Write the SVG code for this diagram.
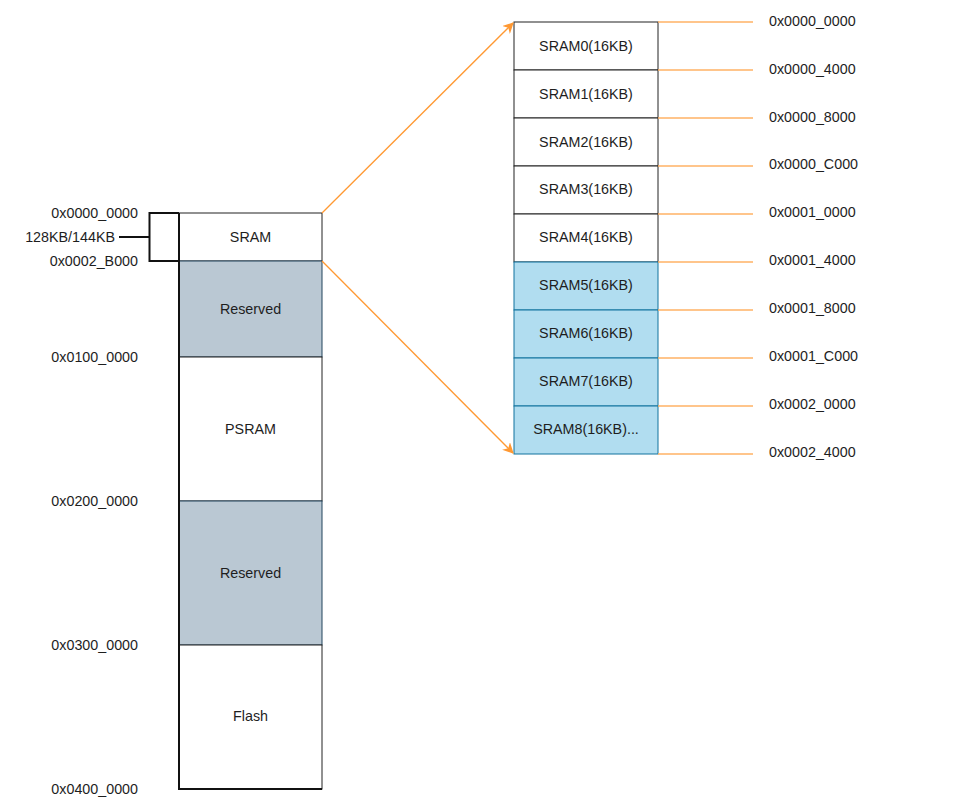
<svg xmlns="http://www.w3.org/2000/svg" width="971" height="809" viewBox="0 0 971 809">
<defs>
<style>
text{font-family:"Liberation Sans",Arial,sans-serif;font-size:14.3px;fill:#1e1e1e}
.c{text-anchor:middle;dominant-baseline:central}
.r{text-anchor:end;dominant-baseline:central}
.l{text-anchor:start;dominant-baseline:central}
.w{fill:#fff;stroke:#222;stroke-width:1}
.g{fill:#bac8d3;stroke:#23445d;stroke-width:1}
.b{fill:#b1ddf0;stroke:#10739e;stroke-width:1}
.o{stroke:#ffb366;stroke-width:1.5;fill:none}
.a{stroke:#ff9933;stroke-width:1.3;fill:none}
</style>
<marker id="arr" viewBox="0 0 10 10" refX="9" refY="5" markerWidth="11" markerHeight="11" orient="auto" markerUnits="userSpaceOnUse">
<path d="M0,0 L10,5 L0,10 L3,5 Z" fill="#ff9933"/>
</marker>
</defs>
<rect width="971" height="809" fill="#fff"/>

<g id="left-memory">
<g id="sram"><rect class="w" x="179" y="213" width="143" height="48"/><text class="c" x="250.5" y="237">SRAM</text></g>
<g id="reserved1"><rect class="g" x="179" y="261" width="143" height="96"/><text class="c" x="250.5" y="309">Reserved</text></g>
<g id="psram"><rect class="w" x="179" y="357" width="143" height="144"/><text class="c" x="250.5" y="429">PSRAM</text></g>
<g id="reserved2"><rect class="g" x="179" y="501" width="143" height="144"/><text class="c" x="250.5" y="573">Reserved</text></g>
<g id="flash"><rect class="w" x="179" y="645" width="143" height="144"/><text class="c" x="250.5" y="716">Flash</text></g>
<path d="M179,213 V789 H322" fill="none" stroke="#111" stroke-width="2"/>
</g>

<g id="bracket">
<path d="M179,213 H149.5 V261 H179" fill="none" stroke="#111" stroke-width="2"/>
<path d="M119,237 H149.5" fill="none" stroke="#111" stroke-width="2"/>
<text class="r" x="115" y="237">128KB/144KB</text>
</g>

<g id="left-addresses">
<text class="r" x="138" y="213">0x0000_0000</text>
<text class="r" x="138" y="261">0x0002_B000</text>
<text class="r" x="138" y="357">0x0100_0000</text>
<text class="r" x="138" y="501">0x0200_0000</text>
<text class="r" x="138" y="645">0x0300_0000</text>
<text class="r" x="138" y="789">0x0400_0000</text>
</g>

<g id="sram-banks">
<g id="sram0"><rect class="w" x="514" y="22" width="144" height="48"/><text class="c" x="586" y="46">SRAM0(16KB)</text></g>
<g id="sram1"><rect class="w" x="514" y="70" width="144" height="48"/><text class="c" x="586" y="94">SRAM1(16KB)</text></g>
<g id="sram2"><rect class="w" x="514" y="118" width="144" height="48"/><text class="c" x="586" y="142">SRAM2(16KB)</text></g>
<g id="sram3"><rect class="w" x="514" y="166" width="144" height="48"/><text class="c" x="586" y="189">SRAM3(16KB)</text></g>
<g id="sram4"><rect class="w" x="514" y="214" width="144" height="48"/><text class="c" x="586" y="237">SRAM4(16KB)</text></g>
<g id="sram5"><rect class="b" x="514" y="262" width="144" height="48"/><text class="c" x="586" y="285">SRAM5(16KB)</text></g>
<g id="sram6"><rect class="b" x="514" y="310" width="144" height="48"/><text class="c" x="586" y="333">SRAM6(16KB)</text></g>
<g id="sram7"><rect class="b" x="514" y="358" width="144" height="48"/><text class="c" x="586" y="381">SRAM7(16KB)</text></g>
<g id="sram8"><rect class="b" x="514" y="406" width="144" height="48"/><text class="c" x="586" y="429">SRAM8(16KB)...</text></g>
</g>

<g id="connectors">
<path class="a" d="M322,213 L513,23" marker-end="url(#arr)"/>
<path class="a" d="M322,261 L513,453" marker-end="url(#arr)"/>
<path class="o" d="M658,22 H753 M658,70 H753 M658,118 H753 M658,166 H753 M658,214 H753 M658,262 H753 M658,310 H753 M658,358 H753 M658,406 H753 M658,454 H753"/>
</g>

<g id="right-addresses">
<text class="l" x="769" y="21">0x0000_0000</text>
<text class="l" x="769" y="69">0x0000_4000</text>
<text class="l" x="769" y="117">0x0000_8000</text>
<text class="l" x="769" y="164">0x0000_C000</text>
<text class="l" x="769" y="212">0x0001_0000</text>
<text class="l" x="769" y="260">0x0001_4000</text>
<text class="l" x="769" y="308">0x0001_8000</text>
<text class="l" x="769" y="356">0x0001_C000</text>
<text class="l" x="769" y="404">0x0002_0000</text>
<text class="l" x="769" y="452">0x0002_4000</text>
</g>
</svg>
